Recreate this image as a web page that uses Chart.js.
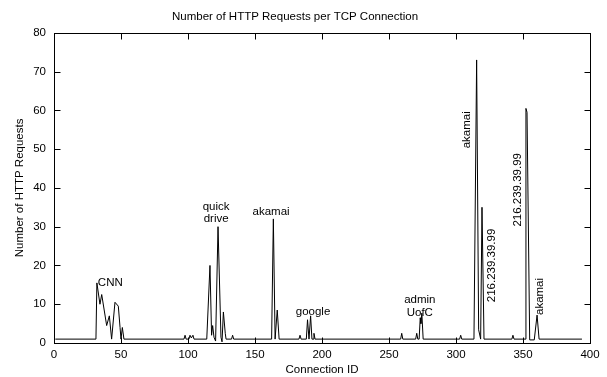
<!DOCTYPE html>
<html>
<head>
<meta charset="utf-8">
<script src="https://cdn.jsdelivr.net/npm/chart.js@4/dist/chart.umd.min.js"></script>
<style>
  body { margin: 0; background: #fff; }
  #wrap { width: 607px; height: 377px; }
</style>
</head>
<body>
<div id="wrap"><canvas id="reqChart"></canvas></div>
<script>
// Connection ID (x) and number of HTTP requests (y)
const connectionId = [
  1, 31.3, 32, 34.3, 35.6, 39.3, 41.3, 43, 45.5, 48, 49.3, 50, 51, 52.2,
  97, 97.8, 98.6, 100.7, 101.5, 102.5, 103.7, 104.5,
  114, 116.4, 117.6, 118.4, 119.4, 120.6, 122.4, 124.6, 125.4, 126.4, 127.8, 128.4,
  132.5, 133.3, 134.1,
  162.4, 163.7, 165, 166.6, 168,
  182.8, 183.6, 184.4, 188.3, 189.2, 190.3, 191.5, 192.5, 193.3, 194, 194.8,
  258.7, 259.5, 260.3, 269.9, 270.7, 271.5, 272.5, 273.3, 273.8, 274.5, 275.5,
  302.7, 303.5, 304.3,
  313.4, 315.4, 316.9, 318.4, 319.4, 320.9,
  341.7, 342.5, 343.3,
  351.5, 352.2, 353, 355, 358.4, 360.5, 362, 394
];
const httpRequests = [
  1, 1, 15.5, 10, 12.5, 4.5, 7, 1, 10.5, 9.5, 4, 1, 4, 1,
  1, 2, 1, 1, 2, 1.3, 2, 1,
  1, 20, 2, 4.5, 1.5, 0.5, 30, 1.5, 0.3, 8, 2.5, 1,
  1, 2, 1,
  1, 32, 1, 8.5, 1,
  1, 2, 1, 1, 6, 1, 7, 1, 1, 2.5, 1,
  1, 2.5, 1, 1, 2.5, 1, 1, 6.5, 5, 7.7, 1,
  1, 2, 1,
  1, 73, 3.4, 1, 35, 1,
  1, 2, 1,
  1, 60.5, 59.5, 0.8, 0.8, 7.2, 1, 1
];
const xTicks = [0, 50, 100, 150, 200, 250, 300, 350, 400];
const yTicks = [0, 10, 20, 30, 40, 50, 60, 70, 80];

// text labels placed at data coordinates
const callouts = [
  { lines: ["CNN"], x: 42, y: 15.5, rotate: false },
  { lines: ["quick", "drive"], x: 121, y: 33.6, rotate: false },
  { lines: ["akamai"], x: 162, y: 33.8, rotate: false },
  { lines: ["google"], x: 193.3, y: 8, rotate: false },
  { lines: ["admin", "UofC"], x: 273, y: 9.4, rotate: false },
  { lines: ["akamai"], x: 308, y: 55, rotate: true },
  { lines: ["216.239.39.99"], x: 327, y: 20, rotate: true },
  { lines: ["216.239.39.99"], x: 346.3, y: 39.5, rotate: true },
  { lines: ["akamai"], x: 362.7, y: 12, rotate: true }
];

const FONT = "'Liberation Sans', Arial, Helvetica, sans-serif";

// gnuplot-like frame with ticks pointing inward, plus the text labels
const framePlugin = {
  id: "frame",
  afterDatasetsDraw(chart) {
    const { ctx, chartArea: a, scales } = chart;
    const L = Math.round(a.left) + 0.5, R = Math.round(a.right) + 0.5;
    const T = Math.round(a.top) + 0.5, B = Math.round(a.bottom) + 0.5;
    ctx.save();
    ctx.strokeStyle = "#000";
    ctx.lineWidth = 1;
    ctx.strokeRect(L, T, R - L, B - T);
    const tl = 6;
    ctx.beginPath();
    xTicks.forEach(v => {
      const px = Math.round(scales.x.getPixelForValue(v)) + 0.5;
      ctx.moveTo(px, B); ctx.lineTo(px, B - tl);
      ctx.moveTo(px, T); ctx.lineTo(px, T + tl);
    });
    yTicks.forEach(v => {
      const py = Math.round(scales.y.getPixelForValue(v)) + 0.5;
      ctx.moveTo(L, py); ctx.lineTo(L + tl, py);
      ctx.moveTo(R, py); ctx.lineTo(R - tl, py);
    });
    ctx.stroke();

    ctx.fillStyle = "#000";
    ctx.font = "11.5px " + FONT;
    ctx.textAlign = "center";
    ctx.textBaseline = "middle";
    const lh = 12.5;
    callouts.forEach(c => {
      const px = scales.x.getPixelForValue(c.x);
      const py = scales.y.getPixelForValue(c.y);
      ctx.save();
      ctx.translate(px, py);
      if (c.rotate) ctx.rotate(-Math.PI / 2);
      const off = (c.lines.length - 1) * lh / 2;
      c.lines.forEach((t, i) => ctx.fillText(t, 0, i * lh - off));
      ctx.restore();
    });
    ctx.restore();
  }
};

const ctx = document.getElementById("reqChart").getContext("2d");
const reqChart = new Chart(ctx, {
  type: "line",
  data: {
    datasets: [{
      data: connectionId.map((x, i) => ({ x: x, y: httpRequests[i] })),
      borderColor: "#000",
      borderWidth: 1,
      pointRadius: 0,
      tension: 0,
      fill: false
    }]
  },
  options: {
    responsive: true,
    maintainAspectRatio: false,
    animation: false,
    layout: { padding: { right: 17, left: 0, bottom: 0, top: 0 } },
    plugins: {
      legend: { display: false },
      tooltip: { enabled: false },
      title: {
        display: true,
        text: "Number of HTTP Requests per TCP Connection",
        color: "#000",
        font: { family: FONT, size: 11.5, weight: "normal" },
        padding: { top: 10, bottom: 9 }
      }
    },
    scales: {
      x: {
        type: "linear",
        min: 0,
        max: 400,
        afterBuildTicks: s => { s.ticks = xTicks.map(v => ({ value: v })); },
        afterFit: s => { s.height = 34; },
        grid: { display: false, tickLength: 0 },
        border: { display: false },
        ticks: { color: "#000", padding: 5, maxRotation: 0, font: { family: FONT, size: 11.5 } },
        title: {
          display: true,
          text: "Connection ID",
          color: "#000",
          padding: { top: 0, bottom: 0 },
          font: { family: FONT, size: 11.5 }
        }
      },
      y: {
        min: 0,
        max: 80,
        afterBuildTicks: s => { s.ticks = yTicks.map(v => ({ value: v })); },
        afterFit: s => { s.width = 54; },
        grid: { display: false, tickLength: 0 },
        border: { display: false },
        ticks: { color: "#000", padding: 8, font: { family: FONT, size: 11.5 } },
        title: {
          display: true,
          text: "Number of HTTP Requests",
          color: "#000",
          padding: { top: 13, bottom: 0 },
          font: { family: FONT, size: 11.5 }
        }
      }
    }
  },
  plugins: [framePlugin]
});
</script>
</body>
</html>
